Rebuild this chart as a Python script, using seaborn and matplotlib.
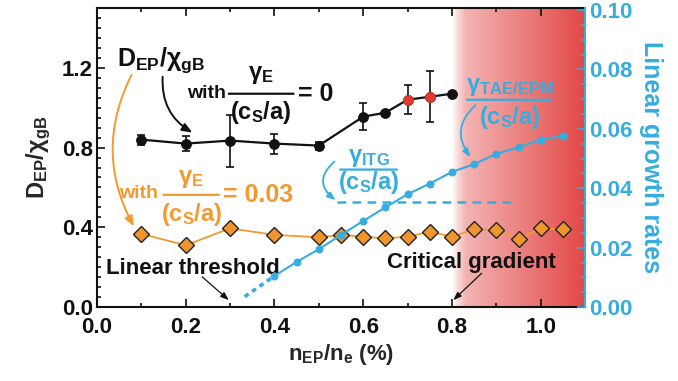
import numpy as np
import matplotlib
matplotlib.use("Agg")
import matplotlib.pyplot as plt
from matplotlib.ticker import MultipleLocator, FormatStrFormatter
import seaborn as sns

# EP density scan (n_EP/n_e in %)
n_ep_no_shear = [0.1, 0.2, 0.3, 0.4, 0.5, 0.6, 0.65, 0.7, 0.75, 0.8]
d_ep_no_shear = [0.84, 0.82, 0.835, 0.82, 0.81, 0.955, 0.975, 1.04, 1.055, 1.07]
d_ep_no_shear_err = [0.025, 0.037, 0.13, 0.05, 0.02, 0.067, 0.0, 0.073, 0.127, 0.0]
red_points = [0.7, 0.75]

n_ep_shear = [0.1, 0.2, 0.3, 0.4, 0.5, 0.55, 0.6, 0.65, 0.7, 0.75, 0.8, 0.85, 0.9, 0.95, 1.0, 1.05]
d_ep_shear = [0.367, 0.31, 0.395, 0.362, 0.35, 0.362, 0.353, 0.345, 0.353, 0.378, 0.353,
              0.39, 0.385, 0.34, 0.395, 0.39]

n_ep_growth = [0.4, 0.45, 0.5, 0.55, 0.6, 0.65, 0.7, 0.75, 0.8, 0.85, 0.9, 0.95, 1.0, 1.05]
gamma_tae = [0.0105, 0.0152, 0.0195, 0.0243, 0.029, 0.0336, 0.038, 0.0416, 0.0455, 0.0481,
             0.0516, 0.0538, 0.0564, 0.0576]
threshold_x = [0.333, 0.4]
threshold_y = [0.0035, 0.0105]
itg_x = [0.54, 0.94]
itg_level = 0.0355

x_ticks = [0.0, 0.2, 0.4, 0.6, 0.8, 1.0]
left_ticks = [0.0, 0.4, 0.8, 1.2]
right_ticks = [0.00, 0.02, 0.04, 0.06, 0.08, 0.10]

BLACK = "#111111"
ORANGE = "#F39A2E"
BLUE = "#35ADE0"
RED = "#E5372E"
FONT = "Liberation Sans"

sns.set_theme(style="ticks")
plt.rcParams["font.family"] = [FONT, "DejaVu Sans"]
plt.rcParams["font.weight"] = "bold"
plt.rcParams["mathtext.fontset"] = "custom"
for k in ["rm", "it", "bf", "sf"]:
    plt.rcParams["mathtext." + k] = FONT + ":bold"


def frac_label(ax, xl, xr, y_line, y_num, y_den, num, den, color, size=17):
    xc = (xl + xr) / 2
    ax.text(xc, y_num, num, color=color, fontsize=size, ha="center", va="center")
    ax.text(xc, y_den, den, color=color, fontsize=size, ha="center", va="center")
    ax.annotate("", xy=(xr, y_line), xytext=(xl, y_line),
                arrowprops=dict(arrowstyle="-", color=color, lw=1.6, shrinkA=0, shrinkB=0))


fig = plt.figure(figsize=(6.78, 3.81), dpi=100)
ax = fig.add_axes([0.143, 0.194, 0.720, 0.785])
ax2 = ax.twinx()

# red shaded region (critical gradient)
xs = np.linspace(0.8, 1.1, 300)
alpha = np.interp(xs, [0.8, 0.81, 0.83, 1.1], [0.0, 0.15, 0.38, 0.93])
grad = np.zeros((1, len(xs), 4))
grad[..., 0] = 0.88
grad[..., 1] = 0.22
grad[..., 2] = 0.21
grad[..., 3] = alpha
ax.imshow(grad, extent=[0.8, 1.1, 0, 1.5], aspect="auto", zorder=0, interpolation="bilinear")

# D_EP without shear
ax.errorbar(n_ep_no_shear, d_ep_no_shear, yerr=d_ep_no_shear_err, fmt="none",
            ecolor=BLACK, elinewidth=1.2, capsize=3, capthick=1.2, zorder=3)
sns.lineplot(x=n_ep_no_shear, y=d_ep_no_shear, ax=ax, color=BLACK, lw=1.6, marker="o",
             markersize=7, markeredgecolor=BLACK, zorder=4)
red_y = [d for n, d in zip(n_ep_no_shear, d_ep_no_shear) if n in red_points]
sns.scatterplot(x=red_points, y=red_y, ax=ax, color=RED, s=50, edgecolor=RED, zorder=5)

# D_EP with shear
sns.lineplot(x=n_ep_shear, y=d_ep_shear, ax=ax, color=ORANGE, lw=1.3, marker="D",
             markersize=8, markerfacecolor="#F0952C", markeredgecolor="#222222",
             markeredgewidth=1.0, zorder=4)

# linear growth rates
sns.lineplot(x=n_ep_growth, y=gamma_tae, ax=ax2, color=BLUE, lw=1.5, marker="o",
             markersize=5, markeredgecolor=BLUE, zorder=3)
sns.lineplot(x=threshold_x, y=threshold_y, ax=ax2, color=BLUE, lw=2.6,
             linestyle=(0, (1.3, 1.2)), zorder=3)
sns.lineplot(x=itg_x, y=[itg_level, itg_level], ax=ax2, color=BLUE, lw=1.8,
             linestyle=(0, (3.5, 2.5)), zorder=3)

ax.set_xlim(0, 1.1)
ax.set_ylim(0, 1.5)
ax2.set_ylim(0, 0.1007)

ax.set_xticks(x_ticks)
ax.set_yticks(left_ticks)
ax2.set_yticks(right_ticks)
ax.xaxis.set_minor_locator(MultipleLocator(0.1))
ax.yaxis.set_minor_locator(MultipleLocator(0.05))
ax2.yaxis.set_minor_locator(MultipleLocator(0.005))
ax.xaxis.set_major_formatter(FormatStrFormatter("%.1f"))
ax.yaxis.set_major_formatter(FormatStrFormatter("%.1f"))
ax2.yaxis.set_major_formatter(FormatStrFormatter("%.2f"))

ax.tick_params(which="both", direction="in", top=True, right=False, labelsize=16,
               width=1.2, colors=BLACK)
ax.tick_params(axis="y", pad=3)
ax.tick_params(axis="x", pad=7)
ax.tick_params(which="major", length=6)
ax.tick_params(which="minor", length=3)
ax2.tick_params(which="both", direction="in", colors=BLUE, labelsize=16, width=1.2, pad=3)
ax2.tick_params(which="major", length=6)
ax2.tick_params(which="minor", length=3)
for lab in ax.get_xticklabels() + ax.get_yticklabels() + ax2.get_yticklabels():
    lab.set_fontweight("bold")

for s in ["left", "bottom", "top"]:
    ax.spines[s].set_linewidth(1.5)
    ax.spines[s].set_color(BLACK)
ax.spines["right"].set_visible(False)
ax2.spines["right"].set_color(BLUE)
ax2.spines["right"].set_linewidth(1.5)
for s in ["left", "bottom", "top"]:
    ax2.spines[s].set_visible(False)

ax.set_xlabel(r"$\mathregular{n_{EP}/n_e}$ (%)", fontsize=16, fontweight="bold", labelpad=3)
ax.set_ylabel(r"$\mathregular{D_{EP}/\chi_{gB}}$", fontsize=17, fontweight="bold", labelpad=6)
ax2.set_ylabel("Linear growth rates", fontsize=18, fontweight="bold", color=BLUE,
               rotation=270, labelpad=22)

# black annotations
ax.text(0.045, 1.24, r"$\mathregular{D_{EP}/\chi_{gB}}$", fontsize=18, va="center", color=BLACK)
ax.annotate("", xy=(0.215, 0.875), xytext=(0.148, 1.155),
            arrowprops=dict(arrowstyle="-|>,head_length=0.5,head_width=0.2", color=BLACK, lw=1.4,
                            connectionstyle="arc3,rad=0.3", shrinkA=0, shrinkB=0))
ax.text(0.204, 1.07, "with", fontsize=14, va="center", color=BLACK)
frac_label(ax, 0.297, 0.443, 1.07, 1.165, 0.975, r"$\mathregular{\gamma_E}$",
           r"$\mathregular{(c_S/a)}$", BLACK)
ax.text(0.452, 1.07, "= 0", fontsize=18, va="center", color=BLACK)

# orange annotations
ax.annotate("", xy=(0.083, 0.405), xytext=(0.078, 1.165),
            arrowprops=dict(arrowstyle="-|>,head_length=0.5,head_width=0.2", color=ORANGE, lw=1.4,
                            connectionstyle="arc3,rad=0.26", shrinkA=0, shrinkB=0))
ax.text(0.05, 0.57, "with", fontsize=14, va="center", color=ORANGE)
frac_label(ax, 0.15, 0.275, 0.563, 0.645, 0.465, r"$\mathregular{\gamma_E}$",
           r"$\mathregular{(c_S/a)}$", ORANGE)
ax.text(0.283, 0.563, "= 0.03", fontsize=18, va="center", color=ORANGE)

# blue annotations
frac_label(ax2, 0.548, 0.676, 0.0463, 0.0505, 0.0418, r"$\mathregular{\gamma_{ITG}}$",
           r"$\mathregular{(c_S/a)}$", BLUE)
ax2.annotate("", xy=(0.538, 0.036), xytext=(0.535, 0.049),
             arrowprops=dict(arrowstyle="-|>,head_length=0.4,head_width=0.15", color=BLUE, lw=1.3,
                             connectionstyle="arc3,rad=0.6", shrinkA=0, shrinkB=0))
frac_label(ax2, 0.834, 1.025, 0.0698, 0.0742, 0.0638, r"$\mathregular{\gamma_{TAE/EPM}}$",
           r"$\mathregular{(c_S/a)}$", BLUE)
ax2.annotate("", xy=(0.842, 0.0505), xytext=(0.853, 0.068),
             arrowprops=dict(arrowstyle="-|>,head_length=0.4,head_width=0.15", color=BLUE, lw=1.3,
                             connectionstyle="arc3,rad=0.45", shrinkA=0, shrinkB=0))

# threshold labels
ax.text(0.02, 0.196, "Linear threshold", fontsize=16, va="center", color=BLACK)
ax.annotate("", xy=(0.297, 0.035), xytext=(0.237, 0.152),
            arrowprops=dict(arrowstyle="-|>,head_length=0.4,head_width=0.15", color=BLACK, lw=0.9,
                            shrinkA=0, shrinkB=0))
ax.text(0.654, 0.226, "Critical gradient", fontsize=16, va="center", color=BLACK)
ax.annotate("", xy=(0.803, 0.035), xytext=(0.867, 0.17),
            arrowprops=dict(arrowstyle="-|>,head_length=0.4,head_width=0.15", color=BLACK, lw=0.9,
                            shrinkA=0, shrinkB=0))

fig.savefig("out.png", dpi=100)
